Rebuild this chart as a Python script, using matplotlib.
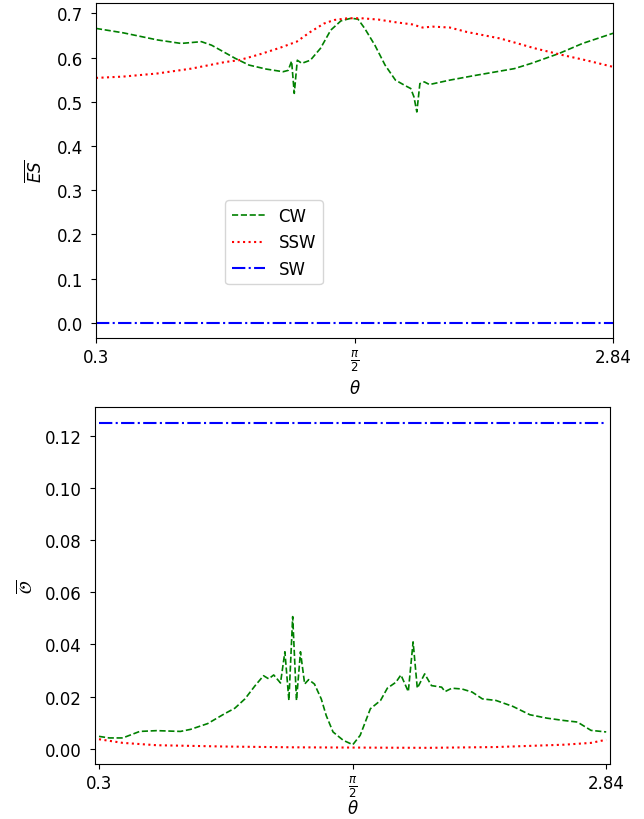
import matplotlib
matplotlib.use("Agg")
import matplotlib.pyplot as plt
import numpy as np

plt.rcParams['font.size'] = 12
plt.rcParams['ytick.major.pad'] = 6

# 上图: ES 均值
theta_es_cw = [0.300, 0.434, 0.601, 0.718, 0.818, 0.868, 0.985, 1.052, 1.136, 1.219,
               1.244, 1.261, 1.274, 1.289, 1.311, 1.353, 1.403, 1.453, 1.503, 1.553,
               1.587, 1.620, 1.670, 1.720, 1.771, 1.821, 1.846, 1.862, 1.876, 1.891,
               1.913, 1.938, 2.038, 2.155, 2.355, 2.439, 2.573, 2.690, 2.840]
es_cw = [0.666, 0.656, 0.640, 0.632, 0.636, 0.628, 0.598, 0.583, 0.574, 0.568,
         0.571, 0.592, 0.519, 0.594, 0.587, 0.594, 0.621, 0.662, 0.683, 0.689,
         0.687, 0.666, 0.628, 0.583, 0.549, 0.536, 0.530, 0.511, 0.477, 0.541,
         0.545, 0.539, 0.549, 0.559, 0.575, 0.587, 0.609, 0.632, 0.655]

theta_es_ssw = [0.300, 0.434, 0.601, 0.768, 0.935, 1.002, 1.102, 1.203, 1.286, 1.353,
                1.420, 1.470, 1.537, 1.603, 1.687, 1.771, 1.854, 1.904, 1.955, 2.038,
                2.121, 2.288, 2.455, 2.589, 2.706, 2.840]
es_ssw = [0.554, 0.557, 0.564, 0.575, 0.590, 0.594, 0.607, 0.622, 0.636, 0.658,
          0.677, 0.685, 0.689, 0.689, 0.686, 0.680, 0.675, 0.668, 0.670, 0.668,
          0.658, 0.643, 0.621, 0.606, 0.594, 0.579]

theta_sw = [0.3, 2.84]
es_sw = [0.0, 0.0]

# 下图
theta_o_cw = [0.300, 0.351, 0.419, 0.504, 0.589, 0.708, 0.759, 0.844, 0.929, 0.980,
              1.031, 1.082, 1.124, 1.150, 1.175, 1.209, 1.231, 1.251, 1.270, 1.289,
              1.309, 1.330, 1.350, 1.379, 1.413, 1.438, 1.472, 1.523, 1.571, 1.608,
              1.659, 1.710, 1.744, 1.787, 1.812, 1.849, 1.873, 1.894, 1.931, 1.965,
              2.016, 2.033, 2.067, 2.118, 2.169, 2.220, 2.288, 2.373, 2.458, 2.543,
              2.628, 2.696, 2.764, 2.840]
o_cw = [0.0047, 0.0041, 0.0041, 0.0066, 0.0069, 0.0066, 0.0074, 0.0096, 0.0134, 0.0155,
        0.0191, 0.0242, 0.0280, 0.0268, 0.0283, 0.0252, 0.0372, 0.0185, 0.0507, 0.0185,
        0.0372, 0.0248, 0.0265, 0.0248, 0.0191, 0.0127, 0.0064, 0.0032, 0.0015, 0.0051,
        0.0153, 0.0185, 0.0232, 0.0255, 0.0283, 0.0219, 0.0410, 0.0232, 0.0287, 0.0242,
        0.0236, 0.0219, 0.0232, 0.0229, 0.0217, 0.0191, 0.0185, 0.0162, 0.0130, 0.0117,
        0.0108, 0.0102, 0.0070, 0.0064]

theta_o_ssw = [0.300, 0.419, 0.589, 0.929, 1.269, 1.571, 1.948, 2.288, 2.628, 2.764, 2.840]
o_ssw = [0.0036, 0.0022, 0.0013, 0.0008, 0.0005, 0.0004, 0.0003, 0.0006, 0.0015, 0.0022, 0.0034]

o_sw = [0.125, 0.125]

xticks = [0.3, np.pi / 2, 2.84]
xticklabels = ['0.3', r'$\frac{\pi}{2}$', '2.84']

fig = plt.figure(figsize=(6.44, 8.2), dpi=100)

# 上图
ax1 = fig.add_axes([0.149, 0.5866, 0.803, 0.4085])
ax1.plot(theta_es_cw, es_cw, color='g', linestyle='--', linewidth=1.2, label='CW')
ax1.plot(theta_es_ssw, es_ssw, color='r', linestyle=':', linewidth=1.5, label='SSW')
ax1.plot(theta_sw, es_sw, color='b', linestyle='-.', linewidth=1.5, label='SW')
ax1.set_xlim(0.3, 2.84)
ax1.set_xticks(xticks)
ax1.set_xticklabels(xticklabels)
ax1.set_xlabel(r'$\theta$')
ax1.set_ylabel(r'$\overline{ES}$', labelpad=8)
ax1.legend(loc='lower left', bbox_to_anchor=(0.25, 0.16), borderaxespad=0)

# 下图
ax2 = fig.add_axes([0.1475, 0.067, 0.8, 0.4355])
ax2.plot(theta_o_cw, o_cw, color='g', linestyle='--', linewidth=1.2)
ax2.plot(theta_o_ssw, o_ssw, color='r', linestyle=':', linewidth=1.5)
ax2.plot(theta_sw, o_sw, color='b', linestyle='-.', linewidth=1.5)
ax2.set_xlim(0.28, 2.86)
ax2.set_xticks(xticks)
ax2.set_xticklabels(xticklabels)
ax2.set_xlabel(r'$\theta$', labelpad=0)
ax2.set_ylabel(r'$\overline{\mathcal{O}}$', labelpad=6)

plt.savefig('out.png', dpi=100)
